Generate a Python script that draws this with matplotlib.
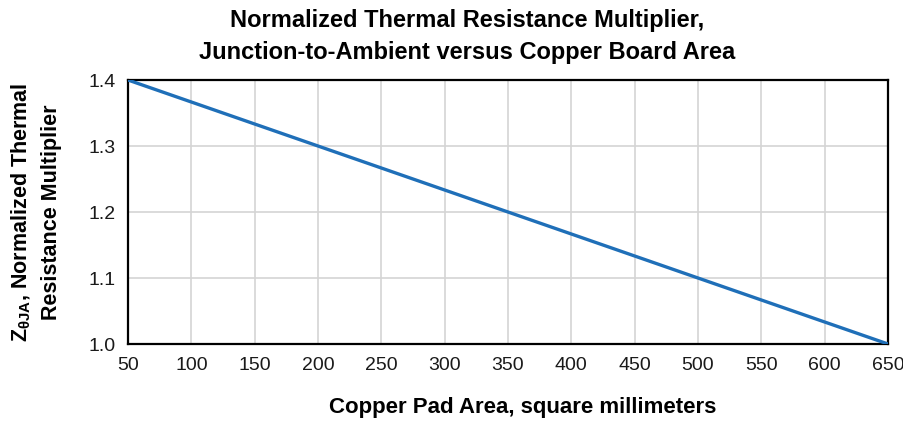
import matplotlib
matplotlib.use("Agg")
import matplotlib.pyplot as plt

# data
copper_area = [50, 650]
multiplier = [1.4, 1.0]

x_ticks = [50, 100, 150, 200, 250, 300, 350, 400, 450, 500, 550, 600, 650]
y_ticks = [1.0, 1.1, 1.2, 1.3, 1.4]

plt.rcParams['font.family'] = ['Liberation Sans', 'DejaVu Sans']
plt.rcParams['mathtext.fontset'] = 'custom'
plt.rcParams['mathtext.rm'] = 'Liberation Sans:bold'
plt.rcParams['mathtext.bf'] = 'Liberation Sans:bold'
plt.rcParams['mathtext.it'] = 'Liberation Sans:bold'

fig = plt.figure(figsize=(9.04, 4.32), dpi=100)
ax = fig.add_axes([0.1416, 0.2037, 0.8407, 0.6111])

ax.plot(copper_area, multiplier, color='#1f6fb8', linewidth=2.4, solid_capstyle='butt', zorder=3)

ax.set_xlim(50, 650)
ax.set_ylim(1.0, 1.4)
ax.set_xticks(x_ticks)
ax.set_yticks(y_ticks)
ax.set_xticklabels([str(v) for v in x_ticks], fontsize=14, color='#1a1a1a')
ax.set_yticklabels([f"{v:.1f}" for v in y_ticks], fontsize=14, color='#1a1a1a')
ax.tick_params(axis='x', length=0, pad=9)
ax.tick_params(axis='y', length=0, pad=9)

ax.grid(True, color='#d4d4d4', linewidth=1.2)
ax.set_axisbelow(True)
for s in ax.spines.values():
    s.set_linewidth(1.6)
    s.set_color('black')

ax.set_ylabel("Z$_{\\theta JA}$, Normalized Thermal\nResistance Multiplier", fontsize=15.5,
              fontweight='bold', linespacing=1.5, va='center')
ax.yaxis.set_label_coords(-0.121, 0.5)

fig.text(523 / 904, 1 - 408 / 432, "Copper Pad Area, square millimeters",
         fontsize=16, fontweight='bold', ha='center', va='center')
fig.text(467 / 904, 1 - 36 / 432,
         "Normalized Thermal Resistance Multiplier,\nJunction-to-Ambient versus Copper Board Area",
         fontsize=17, fontweight='bold', ha='center', va='center', linespacing=1.5)

fig.savefig("out.png", dpi=100)
